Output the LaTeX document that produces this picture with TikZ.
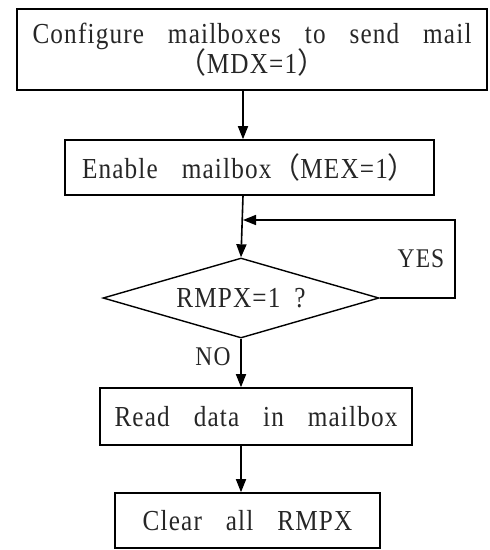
\documentclass[tikz,border=0pt]{standalone}
\usepackage{fontspec}
\setmainfont[FakeStretch=0.87,WordSpace=3.2,LetterSpace=4]{Liberation Serif}
\newfontfamily\cjk{Noto Sans CJK SC}
\usetikzlibrary{arrows.meta,shapes.geometric}
\begin{document}
\begin{tikzpicture}[x=1pt,y=-1pt,
  every node/.style={font=\fontsize{29}{33}\selectfont, text=black!85},
  box/.style={draw, line width=1.6pt, minimum height=55pt, inner sep=0pt, align=center},
  dec/.style={draw, diamond, line width=1.4pt, inner sep=0pt, minimum width=276pt, minimum height=80pt},
  arr/.style={line width=1.6pt, -{Triangle[length=13pt,width=10pt]}},
  lbl/.style={font=\fontsize{27}{30}\selectfont}]
\useasboundingbox (0,0) rectangle (490,550);
\node[box, minimum width=470pt, minimum height=81pt] (b1) at (252,49.5)
  {Configure mailboxes to send mail\\[-3pt]{\cjk （}MDX=1{\cjk ）}};
\node[box, minimum width=369pt] (b2) at (249.5,167.5) {Enable mailbox{\cjk （}MEX=1{\cjk ）}};
\node[dec] (d) at (241,298) {};
\node (dt) at (241,298) {RMPX=1\hspace{14pt}?};
\node[box, minimum width=312pt, minimum height=57pt] (b3) at (256,416.5) {Read data in mailbox};
\node[box, minimum width=265pt] (b4) at (247.5,520.5) {Clear all RMPX};
\coordinate (j) at (243,220);
\coordinate (c1) at (455,298);
\coordinate (c2) at (455,220);
\draw[arr] (b1.south -| j) -- (b2.north -| j);
\draw[arr] (b2.south -| j) -- (d.north);
\draw[arr] (d.east) -- (c1) -- (c2) -- (j);
\draw[arr] (d.south) -- (b3.north -| d.south);
\draw[arr] (b3.south -| d.south) -- (b4.north -| d.south);
\node[lbl] (yes) at (421,259) {YES};
\node[lbl] (no) at (213,357) {NO};
\end{tikzpicture}
\end{document}
